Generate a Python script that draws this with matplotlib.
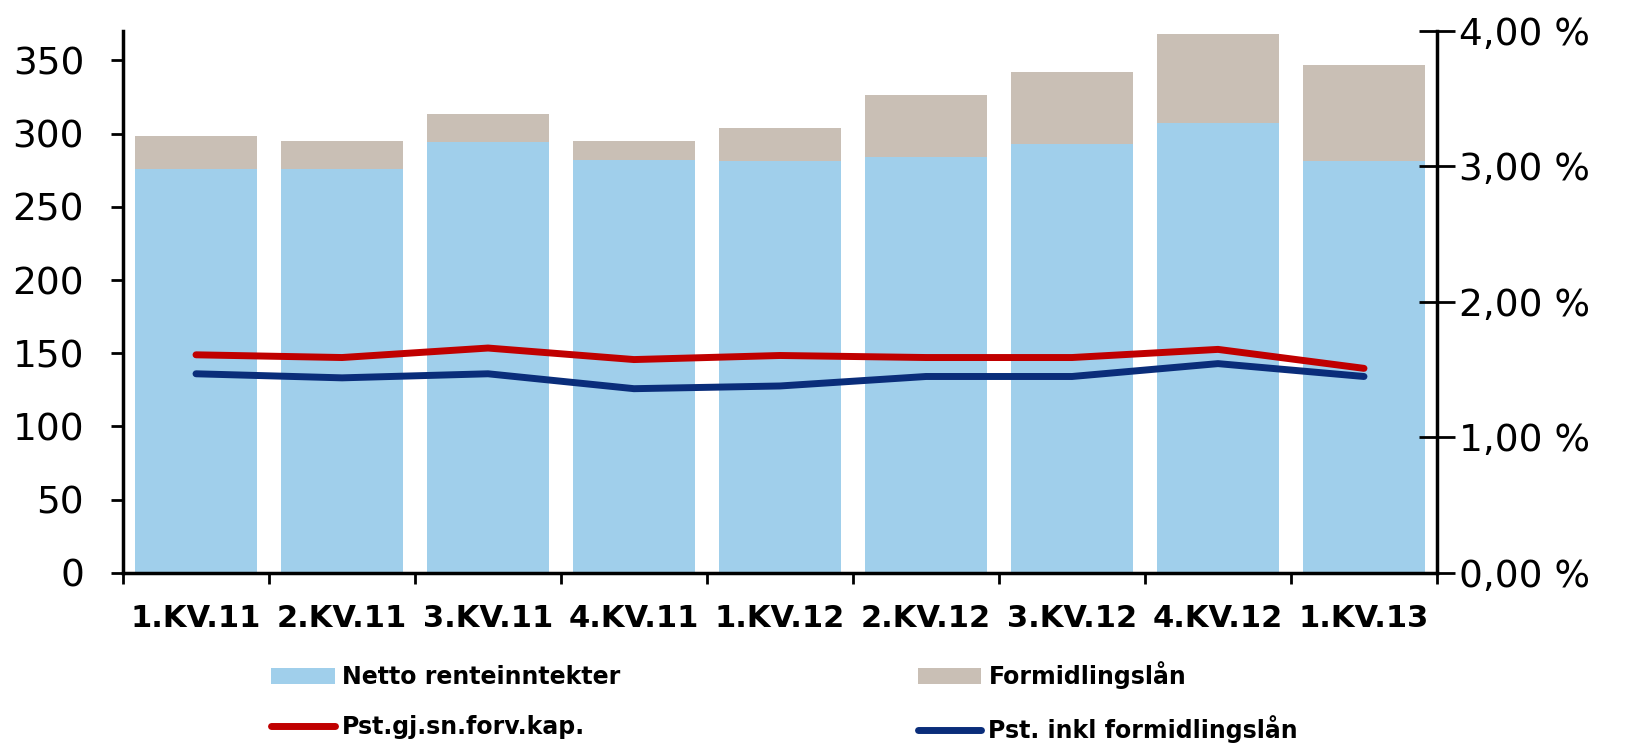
import matplotlib.pyplot as plt
import numpy as np

# Kvartaler og verdier (mill. kr og prosent)
kvartaler = ['1.KV.11', '2.KV.11', '3.KV.11', '4.KV.11', '1.KV.12',
             '2.KV.12', '3.KV.12', '4.KV.12', '1.KV.13']
netto_renteinntekter = [276, 276, 294, 282, 281, 284, 293, 307, 281]
formidlingslaan = [22, 19, 19, 13, 23, 42, 49, 61, 66]
pst_gj_sn = [1.61, 1.59, 1.66, 1.575, 1.605, 1.59, 1.59, 1.65, 1.51]
pst_inkl = [1.47, 1.44, 1.47, 1.36, 1.38, 1.45, 1.45, 1.545, 1.45]

lyseblaa = '#A0CFEB'
beige = '#C9BFB5'
rod = '#C00000'
morkeblaa = '#0A2D7A'

fig = plt.figure(figsize=(16.25, 7.47), dpi=100)
ax = fig.add_axes([0.0757, 0.233, 0.8086, 0.7255])
ax2 = ax.twinx()

x = np.arange(len(kvartaler))
b1 = ax.bar(x, netto_renteinntekter, width=0.83, color=lyseblaa,
            label='Netto renteinntekter', zorder=2)
b2 = ax.bar(x, formidlingslaan, width=0.83, bottom=netto_renteinntekter,
            color=beige, label='Formidlingslån', zorder=2)

l1, = ax2.plot(x, pst_gj_sn, color=rod, lw=5, solid_capstyle='round',
               label='Pst.gj.sn.forv.kap.')
l2, = ax2.plot(x, pst_inkl, color=morkeblaa, lw=5, solid_capstyle='round',
               label='Pst. inkl formidlingslån')

ax.set_xlim(-0.5, len(kvartaler) - 0.5)
ax.set_ylim(0, 370)
ax2.set_ylim(0, 4)

ax.set_yticks(np.arange(0, 351, 50))
ax.tick_params(axis='y', labelsize=27, length=9, width=2, direction='out',
               pad=19)

# kategorigrenser som tick-streker, navn i midten
ax.set_xticks(np.arange(-0.5, len(kvartaler), 1))
ax.set_xticklabels([])
ax.tick_params(axis='x', which='major', length=8, width=2, direction='out')
ax.set_xticks(x, minor=True)
ax.set_xticklabels(kvartaler, minor=True, fontsize=22, fontweight='bold')
ax.tick_params(axis='x', which='minor', length=0, pad=22)

ax2.set_yticks([0, 1, 2, 3, 4])
ax2.set_yticklabels(['0,00 %', '1,00 %', '2,00 %', '3,00 %', '4,00 %'])
ax2.tick_params(axis='y', labelsize=27, length=26, width=2,
                direction='inout', pad=3)

for a in (ax, ax2):
    a.spines['top'].set_visible(False)
    for s in ('left', 'right', 'bottom'):
        a.spines[s].set_linewidth(2.5)
ax2.spines['left'].set_visible(False)
ax2.spines['bottom'].set_visible(False)
ax.spines['right'].set_visible(False)

fig.legend([b1, l1, b2, l2],
           ['Netto renteinntekter', 'Pst.gj.sn.forv.kap.',
            'Formidlingslån', 'Pst. inkl formidlingslån'],
           ncol=2, frameon=False, loc='center left',
           bbox_to_anchor=(271 / 1625, 0.060),
           prop={'size': 17, 'weight': 'bold'},
           handlelength=2.7, handletextpad=0.3, columnspacing=12.6,
           labelspacing=1.1, borderpad=0, borderaxespad=0,
           handleheight=0.7)

fig.savefig('out.png', dpi=100)
